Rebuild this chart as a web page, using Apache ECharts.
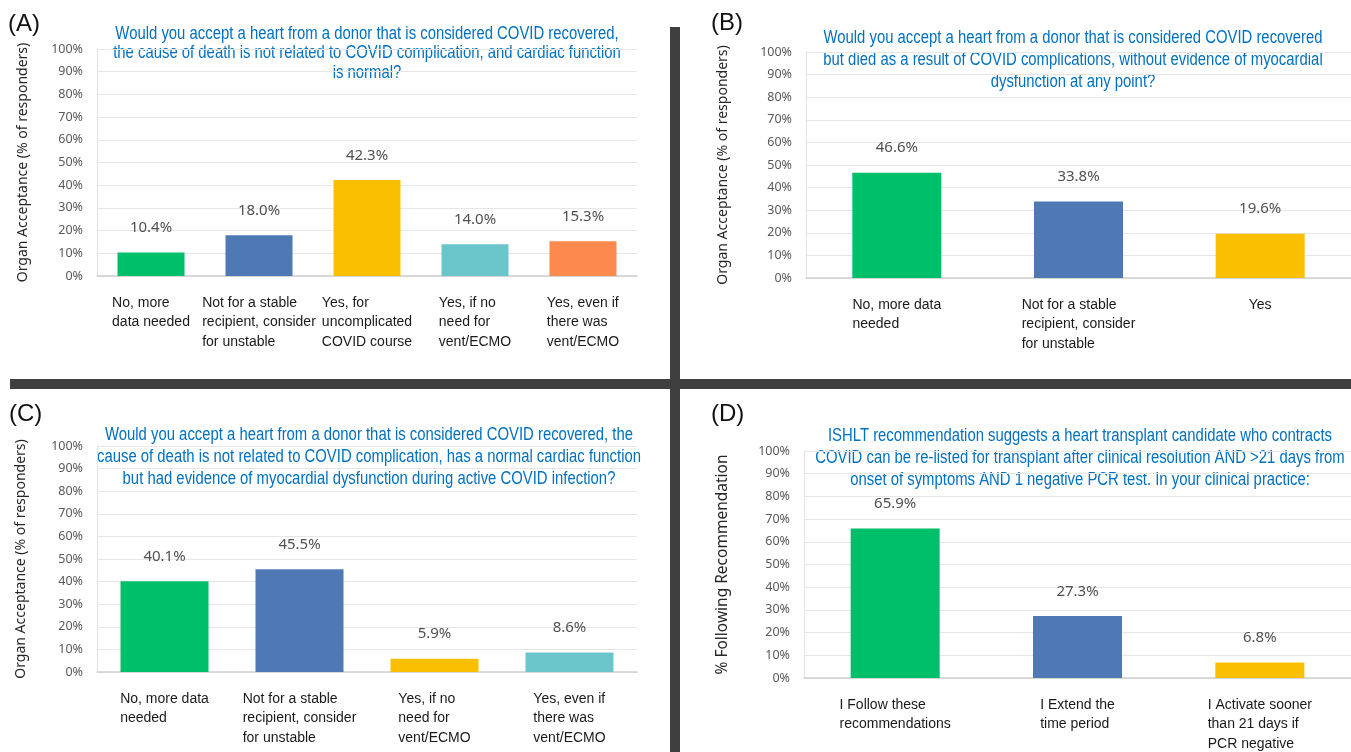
<!DOCTYPE html>
<html>
<head>
<meta charset="utf-8">
<script src="https://cdn.jsdelivr.net/npm/echarts@6/dist/echarts.min.js"></script>
<style>
  html, body { margin: 0; padding: 0; background: #fff; }
  #chart { width: 1351px; height: 752px; }
</style>
</head>
<body>
<div id="chart"></div>
<script>
// panel A
const catsA = ['No, more\ndata needed', 'Not for a stable\nrecipient, consider\nfor unstable', 'Yes, for\nuncomplicated\nCOVID course', 'Yes, if no\nneed for\nvent/ECMO', 'Yes, even if\nthere was\nvent/ECMO']
const valsA = [10.4, 18.0, 42.3, 14.0, 15.3]
// panel B
const catsB = ['No, more data\nneeded', 'Not for a stable\nrecipient, consider\nfor unstable', 'Yes']
const valsB = [46.6, 33.8, 19.6]
// panel C
const catsC = ['No, more data\nneeded', 'Not for a stable\nrecipient, consider\nfor unstable', 'Yes, if no\nneed for\nvent/ECMO', 'Yes, even if\nthere was\nvent/ECMO']
const valsC = [40.1, 45.5, 5.9, 8.6]
// panel D
const catsD = ['I Follow these\nrecommendations', 'I Extend the\ntime period', 'I Activate sooner\nthan 21 days if\nPCR negative']
const valsD = [65.9, 27.3, 6.8]

const titleA = 'Would you accept a heart from a donor that is considered COVID recovered,\nthe cause of death is not related to COVID complication, and cardiac function\nis normal?'
const titleB = 'Would you accept a heart from a donor that is considered COVID recovered\nbut died as a result of COVID complications, without evidence of myocardial\ndysfunction at any point?'
const titleC = 'Would you accept a heart from a donor that is considered COVID recovered, the\ncause of death is not related to COVID complication, has a normal cardiac function\nbut had evidence of myocardial dysfunction during active COVID infection?'
const titleD = 'ISHLT recommendation suggests a heart transplant candidate who contracts\nCOVID can be re-listed for transplant after clinical resolution AND >21 days from\nonset of symptoms AND 1 negative PCR test. In your clinical practice:'

const GREEN = '#00BF6A', BLUE = '#4E79B4', YELLOW = '#F9BF00', CYAN = '#6BC6CB', ORANGE = '#FC8A4F'
const colorsA = [GREEN, BLUE, YELLOW, CYAN, ORANGE]
const colorsB = [GREEN, BLUE, YELLOW]
const colorsC = [GREEN, BLUE, YELLOW, CYAN]
const colorsD = [GREEN, BLUE, YELLOW]

const arial = "'Liberation Sans', sans-serif"
const sans = "'Noto Sans', sans-serif"

const myChart = echarts.init(document.getElementById('chart'), null, {renderer: 'canvas'})

const xAxisFor = (idx, cats) => ({
  type: 'category',
  gridIndex: idx,
  data: cats,
  axisTick: {show: false},
  axisLine: {lineStyle: {color: '#CFCFCF', width: 1.5}},
  axisLabel: {
    interval: 0,
    margin: 17,
    formatter: v => v.split('\n').map(s => '{a|' + s + '}').join('\n'),
    rich: {
      a: {align: 'left', fontFamily: arial, fontSize: 14, lineHeight: 19.5, color: '#1a1a1a'}
    }
  }
})

const yAxisFor = (idx, name, gap, size) => ({
  type: 'value',
  gridIndex: idx,
  min: 0,
  max: 100,
  interval: 10,
  name: name,
  nameLocation: 'middle',
  nameGap: gap,
  nameTextStyle: {fontFamily: sans, fontSize: size, color: '#262626'},
  axisLine: {show: true, lineStyle: {color: '#E3E3E3'}},
  axisTick: {show: false},
  axisLabel: {formatter: '{value}%', fontFamily: sans, fontSize: 12.5, color: '#595959', margin: 14},
  splitLine: {lineStyle: {color: '#E6E6E6'}}
})

const seriesFor = (idx, vals, colors, width) => ({
  type: 'bar',
  xAxisIndex: idx,
  yAxisIndex: idx,
  barWidth: width,
  data: vals.map((v, i) => ({value: v, itemStyle: {color: colors[i]}})),
  label: {
    show: true,
    position: 'top',
    distance: 17,
    formatter: p => p.value.toFixed(1) + '%',
    fontFamily: sans,
    fontSize: 15,
    color: '#505050'
  }
})

// condensed look for the blue questions
const titleText = (x, y, text, lh) => ({
  type: 'text', x: x, y: y, scaleX: 0.85,
  style: {text: text, fill: '#0070C0', fontFamily: arial, fontSize: 17.5, lineHeight: lh, align: 'center', verticalAlign: 'top'}
})
const panelTag = (x, y, text) => ({
  type: 'text', x: x, y: y,
  style: {text: text, fill: '#111', fontFamily: arial, fontSize: 24, align: 'left', verticalAlign: 'middle'}
})

myChart.setOption({
  animation: false,
  grid: [
    {left: 97, right: 714, top: 49, bottom: 476},
    {left: 806, right: 0, top: 52, bottom: 474},
    {left: 97, right: 714, top: 446, bottom: 80},
    {left: 804, right: 0, top: 451, bottom: 74}
  ],
  xAxis: [xAxisFor(0, catsA), xAxisFor(1, catsB), xAxisFor(2, catsC), xAxisFor(3, catsD)],
  yAxis: [
    yAxisFor(0, 'Organ Acceptance (% of responders)', 67, 14),
    yAxisFor(1, 'Organ Acceptance (% of responders)', 76, 14),
    yAxisFor(2, 'Organ Acceptance (% of responders)', 69, 14),
    yAxisFor(3, '% Following Recommendation', 73, 15.5)
  ],
  series: [
    seriesFor(0, valsA, colorsA, 67),
    seriesFor(1, valsB, colorsB, 89),
    seriesFor(2, valsC, colorsC, 88),
    seriesFor(3, valsD, colorsD, 89)
  ],
  graphic: [
    {type: 'rect', shape: {x: 670, y: 27, width: 10, height: 725}, style: {fill: '#3F3F3F'}},
    {type: 'rect', shape: {x: 10, y: 379, width: 1341, height: 10}, style: {fill: '#3F3F3F'}},
    panelTag(8, 24, '(A)'),
    panelTag(711, 23, '(B)'),
    panelTag(9, 414, '(C)'),
    panelTag(711, 414, '(D)'),
    titleText(367, 24, titleA, 19.5),
    titleText(1073, 27, titleB, 22),
    titleText(369, 424, titleC, 22),
    titleText(1080, 425, titleD, 22)
  ]
})
</script>
</body>
</html>
